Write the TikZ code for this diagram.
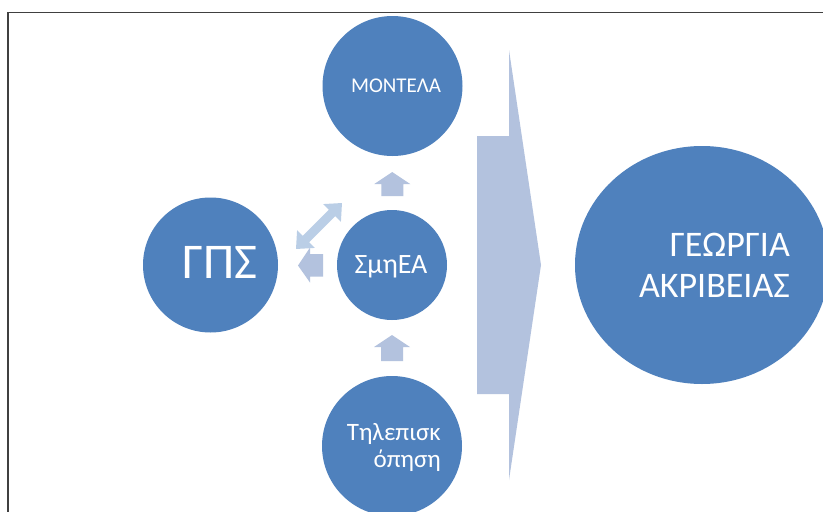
\documentclass[tikz,border=0pt]{standalone}
\usepackage{fontspec}
\setmainfont{Carlito}
\usepackage{tikz}
\usetikzlibrary{shapes.geometric,calc}
\definecolor{circblue}{HTML}{4F81BD}
\definecolor{arrowgray}{HTML}{B3C2DE}
\definecolor{arrowlight}{HTML}{BACEE6}
\definecolor{framegray}{HTML}{404040}

\tikzset{
  bubble/.style={circle, fill=circblue, inner sep=0pt},
  bubbletext/.style={text=white, inner sep=0pt},
  blockarrow/.style={fill=arrowgray},
}

\begin{document}
\begin{tikzpicture}[x=1pt, y=-1pt]
  \clip (0,0) rectangle (823,512);
  \fill[white] (0,0) rectangle (823,512);

  % outer frame
  \draw[framegray, line width=1.5pt] (8,530) -- (8,12.5) -- (840,12.5);

  % big arrow towards the result
  \fill[blockarrow] (477,136) -- (509,136) -- (509,50) -- (541,265)
    -- (509,480) -- (509,394) -- (477,394) -- cycle;

  % circles
  \node[bubble, minimum size=140pt] (modela) at (392.5,86) {};
  \node[bubble, minimum size=110pt] (smea) at (392,265) {};
  \node[bubble, minimum size=135pt] (gps) at (210.5,265) {};
  \node[bubble, minimum size=140pt] (remote) at (392,446) {};
  \node[ellipse, fill=circblue, inner sep=0pt,
        minimum width=254pt, minimum height=238pt] (accuracy) at (702,265) {};

  % texts
  \node[bubbletext, anchor=base, font=\fontsize{21}{25}\selectfont] (modelatext) at (396,92) {ΜΟΝΤΕΛΑ};
  \node[bubbletext, anchor=base, font=\fontsize{28}{32}\selectfont] (smeatext) at (391,273) {ΣμηΕΑ};
  \node[bubbletext, anchor=base, font=\fontsize{50}{58}\selectfont] (gpstext) at (220,278) {ΓΠΣ};
  \node[bubbletext, anchor=base east, align=right, font=\fontsize{25}{27}\selectfont] (remotetext) at (441,467) {Τηλεπισκ\\όπηση};
  \node[bubbletext, anchor=base east, align=right, font=\fontsize{36}{41}\selectfont] (accuracytext) at (790,297) {ΓΕΩΡΓΙΑ\\ΑΚΡΙΒΕΙΑΣ};

  % small block arrows
  \fill[blockarrow, shift={($(modela.south)!.5!(smea.north)$)}]
    (-11,13) -- (-11,1) -- (-18,1) -- (0,-11) -- (18,1) -- (11,1) -- (11,13) -- cycle;
  \fill[blockarrow, shift={($(smea.south)!.5!(remote.north)$)}]
    (-11,13) -- (-11,-1) -- (-18,-1) -- (0,-13) -- (18,-1) -- (11,-1) -- (11,13) -- cycle;
  \fill[blockarrow, shift={($(gps.east)!.5!(smea.west)$)}]
    (15.5,-11) -- (2.5,-11) -- (2.5,-17.5) -- (-9.5,0.5) -- (2.5,17.5) -- (2.5,11.5) -- (15.5,11.5) -- cycle;
  \fill[arrowlight, shift={(319,226)}, rotate=45]
    (-32.5,0) -- (-18.5,12.5) -- (-18.5,4.5) -- (18.5,4.5) -- (18.5,12.5) -- (32.5,0)
    -- (18.5,-12.5) -- (18.5,-4.5) -- (-18.5,-4.5) -- (-18.5,-12.5) -- cycle;
\end{tikzpicture}
\end{document}
